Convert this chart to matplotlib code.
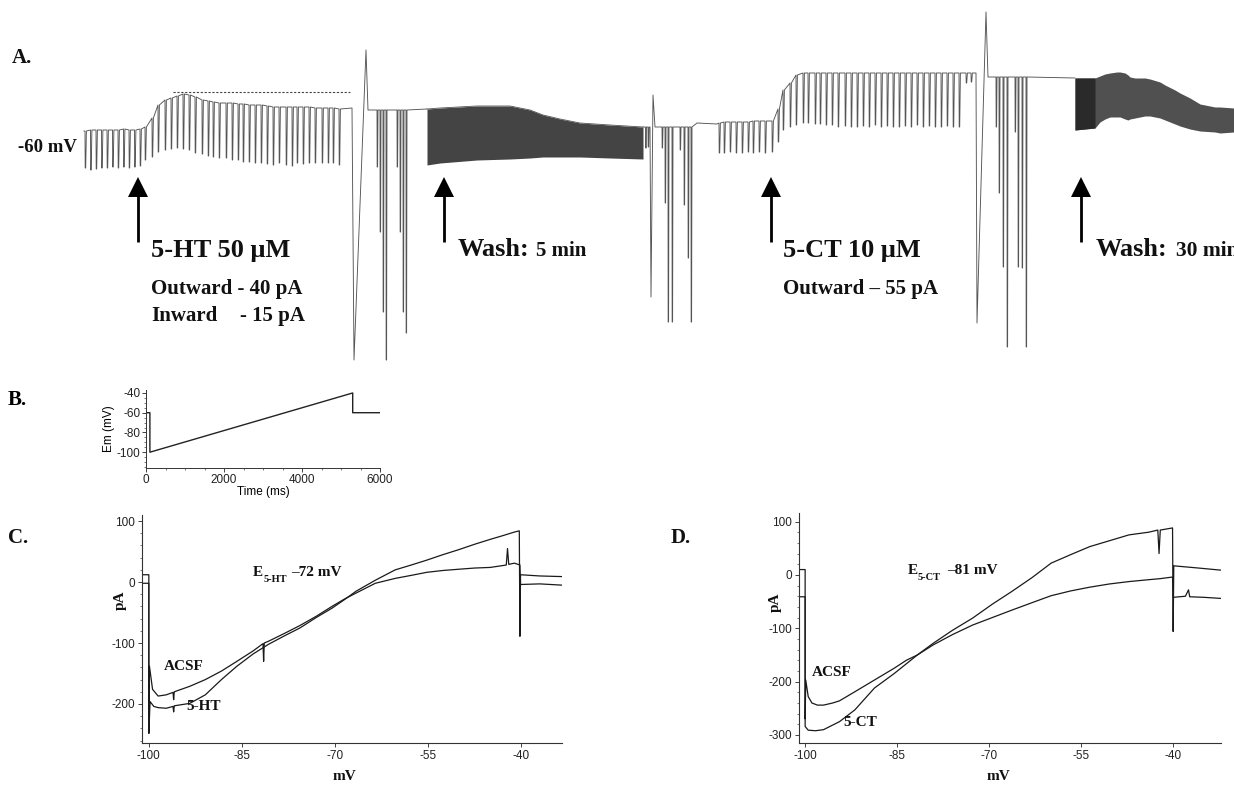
import numpy as np
import matplotlib
matplotlib.use("Agg")
import matplotlib.pyplot as plt
from matplotlib.ticker import MultipleLocator

plt.rcParams['axes.unicode_minus'] = False
plt.rcParams['font.family'] = ['Liberation Sans', 'DejaVu Sans']
SERIF = ['Liberation Serif', 'DejaVu Serif']
W, H = 1234, 786

# ---------------- Panel A: continuous current trace (picture units, y downwards = inward)
seg1_x = [85, 90.5, 96, 101.5, 107, 112.5, 118, 123.5, 129, 134.5, 140]
seg1_top = [131, 130, 130, 130, 130, 130, 130, 129, 130, 130, 129]
seg1_bot = [168, 170, 169, 168, 168, 167, 168, 167, 168, 167, 166]

seg2_x = [145, 152, 158, 165, 171, 177, 183, 189, 195, 202, 208, 213, 219, 226, 232, 238, 243,
          249, 255, 261, 267, 273, 279, 286, 292, 297, 303, 309, 315, 322, 328, 333, 339]
seg2_top = [127, 118, 105, 100, 98, 96, 94, 95, 97, 100, 101, 102, 103, 103, 103, 104, 104,
            105, 105, 105, 106, 107, 107, 107, 107, 107, 107, 107, 108, 108, 108, 108, 109]
seg2_bot = [160, 157, 152, 150, 149, 148, 149, 150, 153, 154, 156, 157, 158, 158, 160, 160, 162,
            162, 163, 163, 164, 165, 163, 165, 166, 163, 164, 163, 163, 163, 163, 163, 165]

seg34_x = [719, 724, 730, 736, 742, 748, 753, 759, 765, 772,
           778, 783, 790, 796, 803, 808, 815, 820, 826, 832,
           838, 845, 851, 857, 863, 869, 875, 881, 887, 893, 899, 905, 911, 917, 923, 929, 935,
           941, 947, 953, 959]
seg34_top = [123, 122, 122, 122, 122, 122, 121, 121, 121, 121,
             109, 90, 83, 75, 73, 73, 73, 73, 73, 73,
             73, 73, 73, 73, 73, 73, 73, 73, 73, 73, 73, 73, 73, 73, 73, 73, 73,
             73, 73, 73, 73]
seg34_bot = [153, 153, 152, 153, 153, 152, 153, 152, 153, 152,
             142, 130, 127, 125, 123, 123, 124, 124, 125, 125,
             127, 126, 127, 127, 126, 127, 125, 127, 126, 127, 127, 126, 127, 125, 127, 126, 127,
             127, 126, 127, 127]
tail_x = [966, 971]
tail_top = [73, 73]
tail_bot = [83, 82]

small_x = [645.5, 648]
small_top = [127, 127]
small_bot = [148, 147]

# deep I-V ramp sweeps
g1_x, g1_bot, g1_top = [377, 380, 383, 386], [167, 232, 312, 360], 110
g2_x, g2_bot, g2_top = [397, 400, 403, 406], [167, 232, 312, 333], 110
g3_x, g3_bot, g3_top = [662, 665, 668, 672], [148, 203, 322, 322], 127
g4_x, g4_bot, g4_top = [680, 684, 688, 691], [150, 205, 258, 322], 127
g5_x, g5_bot, g5_top = [996, 999, 1003, 1007], [127, 193, 267, 347], 77
g6_x, g6_bot, g6_top = [1015, 1018, 1022, 1026], [132, 267, 268, 347], 77

spike1_x, spike1_y = [352, 354, 366, 368], [108, 360, 50, 110]
spike2_x, spike2_y = [650, 651, 653, 655], [127, 297, 95, 127]
spike3_x, spike3_y = [976, 977, 986, 988], [73, 323, 12, 77]
drift_x, drift_y = [692, 697, 717], [127, 123, 124]

w1_x = [427, 440, 477, 510, 530, 543, 560, 580, 610, 643]
w1_top = [109, 108, 106, 106, 110, 115, 119, 123, 125, 127]
w1_bot = [165, 163, 160, 159, 158, 157, 157, 157, 158, 159]

w2_x = [1075, 1095, 1100, 1105, 1110, 1117, 1120, 1125, 1128, 1130, 1135, 1145, 1150, 1160,
        1165, 1175, 1180, 1190, 1200, 1215, 1220, 1234]
w2_top = [78, 78, 76, 74, 73, 72, 72, 73, 75, 77, 78, 78, 79, 82, 85, 90, 93, 98, 104, 107, 107, 108]
w2_bot = [130, 128, 122, 119, 117, 117, 117, 119, 120, 119, 118, 116, 116, 118, 120, 124, 126,
          129, 131, 132, 133, 132]

dash_x, dash_y = [173, 350], [92, 92]
arrow_x = [138, 444, 771, 1081]

# ---------------- Panel B: voltage protocol
prot_t = [0, 100, 100, 5300, 5300, 6000]
prot_v = [-60, -60, -100, -40, -60, -60]

# ---------------- Panel C: I-V (5-HT)
C_acsf_mv = [-101.1, -100.0, -100.0, -99.9, -99.4, -98.5, -97.2, -96.1, -96.0, -95.9, -93.4, -90.9,
             -88.3, -85.8, -83.2, -81.6, -81.5, -81.4, -80.7, -78.1, -75.6, -73.0, -70.5, -68.5,
             -66.6, -63.5, -60.3, -57.7, -55.2, -52.6, -50.1, -47.5, -45.0, -43.0, -42.4, -42.2,
             -42.0, -41.1, -40.2, -40.1, -37.0, -33.5]
C_acsf_pa = [-2, -2, -248, -138, -176, -187, -185, -181, -193, -180, -171, -160,
             -146, -130, -113, -101, -130, -100, -97, -84, -71, -56, -40, -28,
             -18, -2, 6, 11, 16, 19, 21, 23, 24, 27, 28, 55,
             29, 31, 28, -4, -3, -5]
C_5ht_mv = [-101.1, -100.0, -100.0, -99.8, -99.2, -98.5, -97.2, -96.1, -96.0, -95.9, -93.4, -90.9,
            -88.3, -85.8, -83.2, -80.7, -78.1, -75.6, -73.0, -70.5, -68.5, -66.6, -63.5, -60.3,
            -57.7, -55.2, -52.6, -50.1, -47.5, -45.0, -43.0, -41.1, -40.3, -40.2, -40.1, -37.0, -33.5]
C_5ht_pa = [12, 12, -248, -196, -204, -206, -207, -204, -213, -203, -199, -185,
            -160, -138, -118, -102, -88, -75, -58, -43, -29, -15, 3, 20,
            28, 36, 45, 53, 62, 70, 76, 82, 84, -89, 12, 10, 9]

# ---------------- Panel D: I-V (5-CT)
D_acsf_mv = [-101.0, -100.0, -100.0, -99.9, -99.5, -98.9, -98.0, -97.0, -95.5, -94.4, -91.9, -88.7,
             -85.5, -83.5, -81.7, -79.1, -76.0, -72.7, -69.5, -66.3, -63.0, -59.9, -56.7, -53.6,
             -50.4, -47.2, -44.0, -42.1, -40.1, -40.0, -38.0, -37.5, -37.3, -35.0, -32.3]
D_acsf_pa = [-41, -41, -270, -197, -228, -240, -244, -244, -240, -236, -219, -197,
             -175, -160, -150, -131, -112, -94, -80, -66, -52, -39, -30, -23,
             -17, -12.5, -9, -7, -4, -42, -40, -28, -41, -42, -44]
D_5ct_mv = [-101.0, -100.0, -100.0, -99.5, -98.3, -97.0, -94.4, -91.9, -88.7, -85.5, -81.7, -79.1,
            -76.0, -72.7, -69.5, -66.3, -63.0, -59.9, -56.7, -53.6, -50.4, -47.2, -44.0, -42.5,
            -42.3, -42.1, -40.1, -40.0, -39.9, -36.0, -32.3]
D_5ct_pa = [10, 10, -284, -291, -292, -290, -275, -253, -212, -185, -150, -128,
            -104, -81, -55, -31, -5, 22, 38, 53, 64, 75, 80, 84,
            40, 84, 88, -106, 17, 13, 9]

iv_xticks = [-100, -85, -70, -55, -40]

# =====================================================================
fig = plt.figure(figsize=(W / 100, H / 100), dpi=100)

def fx(x):
    return x / W

def fy(y):
    return 1 - y / H

# ---- Panel A axes in picture units
axA = fig.add_axes([0, fy(370), 1, 370 / H])
axA.set_xlim(0, W)
axA.set_ylim(370, 0)
axA.axis('off')
TR = '#555555'

def sweeps(xs, tops, bots, w=1.4):
    px, py = [], []
    for x, t, b in zip(xs, tops, bots):
        px += [x, x + 0.2, x + 0.7, x + w]
        py += [t, b, b, t]
    return px, py

def deep(xs, bots, top):
    px, py = [], []
    for x, b in zip(xs, bots):
        px += [x, x + 0.15, x + 0.6, x + 1.0]
        py += [top, b, b, top]
    return px, py

# piece 1
p1x, p1y = [84], [131]
sx, sy = sweeps(seg1_x, seg1_top, seg1_bot)
p1x += sx; p1y += sy
sx, sy = sweeps(seg2_x, seg2_top, seg2_bot)
p1x += sx; p1y += sy
p1x += spike1_x; p1y += spike1_y
sx, sy = deep(g1_x, g1_bot, g1_top)
p1x += sx; p1y += sy
sx, sy = deep(g2_x, g2_bot, g2_top)
p1x += sx; p1y += sy
p1x += [w1_x[0]]; p1y += [w1_top[0]]
axA.plot(p1x, p1y, color=TR, lw=0.65)

# piece 2
p2x, p2y = [w1_x[-1]], [w1_top[-1]]
sx, sy = sweeps(small_x, small_top, small_bot, w=1.0)
p2x += sx; p2y += sy
p2x += spike2_x; p2y += spike2_y
sx, sy = deep(g3_x, g3_bot, g3_top)
p2x += sx; p2y += sy
sx, sy = deep(g4_x, g4_bot, g4_top)
p2x += sx; p2y += sy
p2x += drift_x; p2y += drift_y
sx, sy = sweeps(seg34_x, seg34_top, seg34_bot)
p2x += sx; p2y += sy
sx, sy = sweeps(tail_x, tail_top, tail_bot)
p2x += sx; p2y += sy
p2x += spike3_x; p2y += spike3_y
sx, sy = deep(g5_x, g5_bot, g5_top)
p2x += sx; p2y += sy
sx, sy = deep(g6_x, g6_bot, g6_top)
p2x += sx; p2y += sy
p2x += [w2_x[0]]; p2y += [w2_top[0]]
axA.plot(p2x, p2y, color=TR, lw=0.65)

# dense wash blocks
axA.fill_between(w1_x, w1_top, w1_bot, color='#444444', lw=0)
axA.plot(w1_x, w1_top, color='#555555', lw=0.6)
axA.fill_between(w2_x, w2_top, w2_bot, color='#505050', lw=0)
axA.fill_between(w2_x[:2], w2_top[:2], w2_bot[:2], color='#2a2a2a', lw=0)

axA.plot(dash_x, dash_y, color='#444444', lw=0.8, ls=(0, (2, 1.5)))

for ax_ in arrow_x:
    axA.plot([ax_, ax_], [196, 242], color='black', lw=2.0, solid_capstyle='butt')
    axA.fill([ax_ - 10, ax_ + 10, ax_], [197, 197, 177], color='black', lw=0)

def bt(ax, x, y, s, size, ha='left', bold=True):
    ax.text(x, y, s, fontsize=size, fontfamily=SERIF, fontweight='bold' if bold else 'normal',
            ha=ha, va='center', color='#111111')

bt(axA, 12, 58, 'A.', 15)
bt(axA, 77, 148, '-60 mV', 13.5, ha='right')
bt(axA, 151, 250, '5-HT 50 \u03bcM', 19)
bt(axA, 151, 289, 'Outward - 40 pA', 15)
bt(axA, 151, 316, 'Inward', 15)
bt(axA, 240, 316, '- 15 pA', 15)
bt(axA, 458, 250, 'Wash:', 19)
bt(axA, 536, 251, '5 min', 15)
bt(axA, 783, 250, '5-CT 10 \u03bcM', 19)
bt(axA, 783, 289, 'Outward \u2013 55 pA', 15)
bt(axA, 1096, 250, 'Wash:', 19)
bt(axA, 1176, 251, '30 min', 15.5)

# ---- Panel B
axB = fig.add_axes([fx(146), fy(468), (380 - 146) / W, (468 - 390) / H])
axB.plot(prot_t, prot_v, color='#222222', lw=1.0)
axB.set_xlim(0, 6000)
axB.set_ylim(-116, -37)
axB.set_xticks([0, 2000, 4000, 6000])
axB.set_yticks([-100, -80, -60, -40])
axB.xaxis.set_minor_locator(MultipleLocator(500))
axB.yaxis.set_minor_locator(MultipleLocator(5))
for s in ['top', 'right']:
    axB.spines[s].set_visible(False)
for s in ['left', 'bottom']:
    axB.spines[s].set_linewidth(0.7)
    axB.spines[s].set_color('#333333')
axB.tick_params(which='major', labelsize=8.5, length=3, width=0.6, pad=1, colors='#222222')
axB.tick_params(which='minor', length=1.5, width=0.5, colors='#444444')
axB.set_xlabel('Time (ms)', fontsize=8.5, labelpad=0)
axB.set_ylabel('Em (mV)', fontsize=8.5, labelpad=1)
fig.text(fx(8), fy(400), 'B.', fontsize=15, fontfamily=SERIF, fontweight='bold', va='center')

# ---- Panels C and D
def style_iv(ax, xlim, ylim, yticks):
    ax.set_xlim(*xlim)
    ax.set_ylim(*ylim)
    ax.set_xticks(iv_xticks)
    ax.set_yticks(yticks)
    ax.yaxis.set_minor_locator(MultipleLocator(20))
    for s in ['top', 'right']:
        ax.spines[s].set_visible(False)
    for s in ['left', 'bottom']:
        ax.spines[s].set_linewidth(0.8)
        ax.spines[s].set_color('#333333')
    ax.tick_params(which='major', labelsize=8.5, length=3, width=0.6, pad=2, colors='#222222')
    ax.tick_params(which='minor', length=1.5, width=0.5, colors='#444444')

axC = fig.add_axes([fx(142), fy(743), 419.5 / W, 228 / H])
axC.plot(C_acsf_mv, C_acsf_pa, color='#1a1a1a', lw=0.9)
axC.plot(C_5ht_mv, C_5ht_pa, color='#1a1a1a', lw=0.9)
style_iv(axC, (-101.1, -33.5), (-264, 110), [100, 0, -100, -200])

axD = fig.add_axes([fx(799), fy(743), 422 / W, 230 / H])
axD.plot(D_acsf_mv, D_acsf_pa, color='#1a1a1a', lw=0.9)
axD.plot(D_5ct_mv, D_5ct_pa, color='#1a1a1a', lw=0.9)
style_iv(axD, (-101.0, -32.2), (-315, 116), [100, 0, -100, -200, -300])

def ft(x, y, s, size, ha='left', rot=0):
    fig.text(fx(x), fy(y), s, fontsize=size, fontfamily=SERIF, fontweight='bold',
             ha=ha, va='center', rotation=rot, color='#111111')

ft(8, 538, 'C.', 15)
ft(671, 538, 'D.', 15)
ft(120, 600, 'pA', 11, ha='center', rot=90)
ft(344, 777, 'mV', 11, ha='center')
ft(775, 602, 'pA', 11, ha='center', rot=90)
ft(998, 777, 'mV', 11, ha='center')
ft(164, 666, 'ACSF', 11)
ft(186, 706, '5-HT', 11)
ft(812, 673, 'ACSF', 11)
ft(843, 722, '5-CT', 11)
ft(253, 572, 'E', 11)
ft(264, 579, '5-HT', 7.5)
ft(291, 572, '\u201372 mV', 11)
ft(908, 571, 'E', 11)
ft(918, 578, '5-CT', 7.5)
ft(947, 571, '\u201381 mV', 11)

fig.savefig('out.png', dpi=100, facecolor='white')
